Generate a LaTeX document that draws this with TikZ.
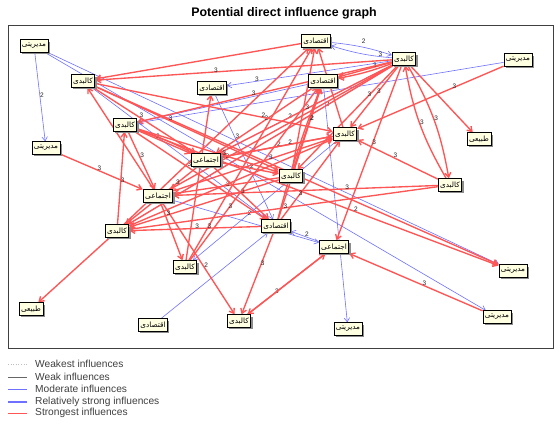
\documentclass[tikz,border=0pt]{standalone}
\usepackage{fontspec}
\setmainfont{Liberation Sans}
\newfontfamily\arabicfont[Script=Arabic]{DejaVu Sans}
\TeXXeTstate=1
\usetikzlibrary{arrows.meta,shadows}
\newcommand\fa[1]{\beginR#1\endR}
\definecolor{redc}{RGB}{255,85,85}
\definecolor{bluec}{RGB}{112,112,255}
\definecolor{boxc}{RGB}{255,255,226}
\pgfdeclarelayer{bg}
\pgfsetlayers{bg,main}
\tikzset{
 box/.style={draw=black, line width=0.8pt, fill=boxc, inner xsep=2pt, inner ysep=0pt,
   minimum height=12.5pt, font=\arabicfont\fontsize{7.3}{8}\selectfont,
   drop shadow={shadow xshift=1.8pt,shadow yshift=-1.8pt,fill=black!45,opacity=1}},
 re/.style={draw=redc, line width=1.35pt, -{Straight Barb[length=4.5pt,width=6pt]}},
 be/.style={draw=bluec, line width=0.6pt, -{Straight Barb[length=4pt,width=5.5pt]}},
 lbl/.style={font=\fontsize{6.5}{6.5}\selectfont, inner sep=0.5pt, text=black!85, xshift=2pt, yshift=2pt},
 legtxt/.style={anchor=west, font=\fontsize{10.2}{11}\selectfont, text=black!75, inner sep=0pt}
}
\begin{document}
\begin{tikzpicture}[x=1pt,y=-1pt]
\useasboundingbox (0,0) rectangle (560,425);
\node[font=\fontsize{12.4}{14}\selectfont\bfseries] (title) at (284,13) {Potential direct influence graph};
% nodes
\node[box] (n1) at (34,46) {\fa{مدیریتی}};
\node[box] (n2) at (83,81) {\fa{کالبدی}};
\node[box] (n3) at (212,88) {\fa{اقتصادی}};
\node[box] (n4) at (125,125) {\fa{کالبدی}};
\node[box] (n5) at (46,148) {\fa{مدیریتی}};
\node[box] (n6) at (206,160) {\fa{اجتماعی}};
\node[box] (n7) at (316,41) {\fa{اقتصادی}};
\node[box] (n8) at (404,59) {\fa{کالبدی}};
\node[box] (n9) at (518,60) {\fa{مدیریتی}};
\node[box] (n10) at (323,81) {\fa{اقتصادی}};
\node[box] (n11) at (345,134) {\fa{کالبدی}};
\node[box] (n12) at (479,139) {\fa{طبیعی}};
\node[box] (n13) at (291,176) {\fa{کالبدی}};
\node[box] (n14) at (450,185) {\fa{کالبدی}};
\node[box] (n15) at (158,196) {\fa{اجتماعی}};
\node[box] (n16) at (117,231) {\fa{کالبدی}};
\node[box] (n17) at (276,226) {\fa{اقتصادی}};
\node[box] (n18) at (334,247) {\fa{اجتماعی}};
\node[box] (n19) at (185,267) {\fa{کالبدی}};
\node[box] (n20) at (513,271) {\fa{مدیریتی}};
\node[box] (n21) at (31,309) {\fa{طبیعی}};
\node[box] (n22) at (153,325) {\fa{اقتصادی}};
\node[box] (n23) at (239,321) {\fa{کالبدی}};
\node[box] (n24) at (348,329) {\fa{مدیریتی}};
\node[box] (n25) at (497,317) {\fa{مدیریتی}};
\begin{pgfonlayer}{bg}
\fill[white] (0,0) rectangle (560,425);
\draw[black!75, line width=0.8pt] (8,25) rectangle (553,348);
% blue edges
\foreach \a/\b/\l/\p [count=\i] in {n1/n5/2/.5, n1/n20//.5, n1/n25//.5, n8/n3/3/.83,
  n9/n4//.5, n3/n17/3/.35, n10/n24/2/.08, n18/n17/2/.5, n22/n17//.5, n15/n18//.5,
  n8/n6/2/.6, n8/n16//.5, n2/n17//.5, n10/n4//.5, n11/n19/2/.62}
  {\draw[be] (\a) -- node[lbl,pos=\p] (bl\i) {\l} (\b);}
\draw[be] (n7) to[bend left=6] node[lbl,pos=.5,yshift=4pt] (bl16) {2} (n8);
\draw[be] (n8) to[bend left=6] node[lbl,pos=.2] (bl17) {3} (n7);
% red edges
\foreach \a/\b/\l/\p [count=\i] in {n8/n2/3/.6, n7/n2//.5, n8/n10/3/.35, n8/n13/3/.3,
  n8/n6/3/.5, n8/n4/3/.55, n8/n15/3/.75, n8/n16//.5, n8/n11/3/.45, n8/n18/3/.45,
  n8/n12//.5, n9/n11/3/.35, n14/n11/3/.55, n14/n16/3/.5, n14/n15/3/.35,
  n2/n20//.5, n4/n20/2/.6, n25/n18/3/.45, n23/n18/3/.35, n18/n23//.5,
  n17/n23/3/.4, n15/n23/2/.58, n15/n19//.5, n5/n15/3/.45, n16/n21//.5,
  n15/n2//.5, n4/n6/3/.35, n4/n17/3/.4, n4/n15/3/.45, n16/n4/3/.45,
  n6/n16/3/.3, n13/n16/3/.75, n17/n16/3/.5, n13/n15/3/.5, n17/n10/2/.75,
  n13/n10/2/.6, n11/n7//.5, n13/n7//.5, n16/n7//.5, n19/n7/3/.15,
  n19/n3//.5, n6/n17/3/.5, n2/n13/3/.4, n2/n6/3/.45, n6/n11/2/.5,
  n15/n11/3/.6, n16/n11//.5, n11/n6/2/.4, n10/n6/3/.5, n17/n11/3/.3,
  n19/n10/3/.3, n6/n13/2/.5, n2/n11/2/.7, n4/n13/3/.6}
  {\draw[re] (\a) -- node[lbl,pos=\p] (rl\i) {\l} (\b);}
\draw[re] (n4) to[bend left=4] (n6);
\draw[re] (n17) to[bend left=3] (n10);
\draw[re] (n8) to[bend left=5] (n10);
\draw[re] (n8) to[bend left=10] node[lbl,pos=.5] (rl90) {3} (n14);
\draw[re] (n14) to[bend left=10] node[lbl,pos=.5] (rl91) {3} (n8);
\end{pgfonlayer}
% legend
\coordinate (la1) at (8,364); \coordinate (lb1) at (27,364);
\coordinate (la2) at (8,377); \coordinate (lb2) at (27,377);
\coordinate (la3) at (8,389); \coordinate (lb3) at (27,389);
\coordinate (la4) at (8,402); \coordinate (lb4) at (27,402);
\coordinate (la5) at (8,413); \coordinate (lb5) at (27,413);
\draw[black!25, dotted, line width=0.6pt] (la1) -- (lb1);
\draw[black!60, line width=0.5pt] (la2) -- (lb2);
\draw[bluec, line width=0.6pt] (la3) -- (lb3);
\draw[bluec, line width=1.4pt] (la4) -- (lb4);
\draw[redc, line width=1pt] (la5) -- (lb5);
\node[legtxt] (t1) at (35,364) {Weakest influences};
\node[legtxt] (t2) at (35,377) {Weak influences};
\node[legtxt] (t3) at (35,389) {Moderate influences};
\node[legtxt] (t4) at (35,402) {Relatively strong influences};
\node[legtxt] (t5) at (35,413) {Strongest influences};
\end{tikzpicture}
\end{document}
